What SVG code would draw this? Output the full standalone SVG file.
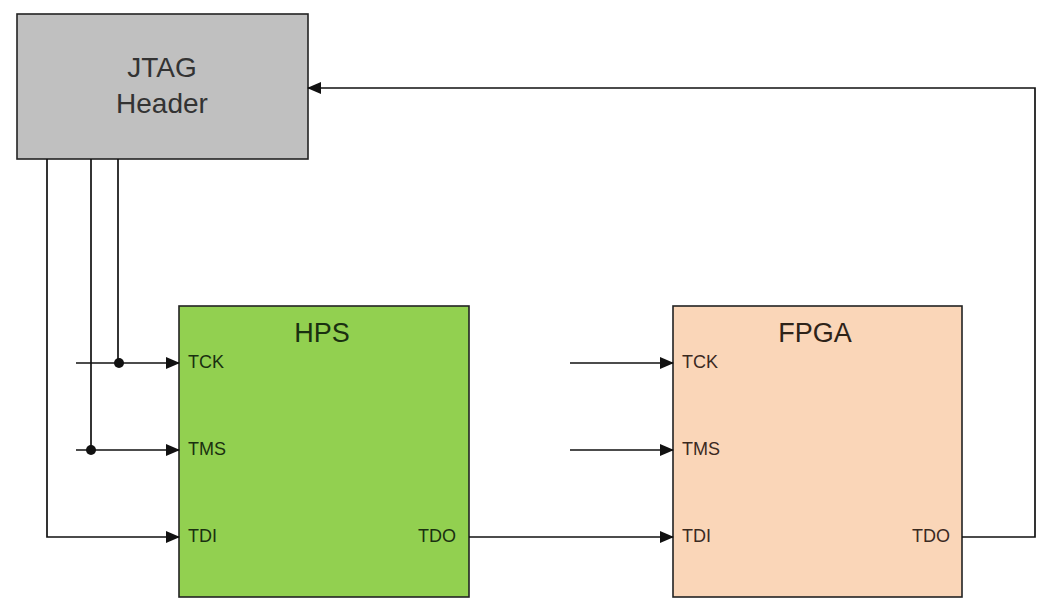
<svg xmlns="http://www.w3.org/2000/svg" width="1048" height="608" viewBox="0 0 1048 608">
<style>
.box{stroke:#222;stroke-width:1.6}
.wire{fill:none;stroke:#111;stroke-width:1.7}
.title{font-family:"Liberation Sans",Arial,sans-serif;font-size:27px;text-anchor:middle}
.port{font-family:"Liberation Sans",Arial,sans-serif;font-size:18px}
</style>
<defs>
<marker id="arr" markerWidth="14" markerHeight="12" refX="13" refY="6" orient="auto" markerUnits="userSpaceOnUse">
<path d="M0,0 L14,6 L0,12 Z" fill="#111"/>
</marker>
</defs>
<rect width="1048" height="608" fill="#fff"/>
<g id="jtag">
<rect class="box" x="17" y="14" width="291" height="145" fill="#c0c0c0"/>
<text class="title" x="162" y="77" fill="#333" style="font-size:28px">JTAG</text>
<text class="title" x="162" y="113" fill="#333" style="font-size:28px">Header</text>
</g>
<g id="hps">
<rect class="box" x="179" y="306" width="290" height="291" fill="#92d050"/>
<text class="title" x="322" y="342" fill="#1a3010">HPS</text>
<text class="port" x="188" y="368" fill="#1a3010">TCK</text>
<text class="port" x="188" y="455" fill="#1a3010">TMS</text>
<text class="port" x="188" y="542" fill="#1a3010">TDI</text>
<text class="port" x="456" y="542" fill="#1a3010" text-anchor="end">TDO</text>
</g>
<g id="fpga">
<rect class="box" x="673" y="306" width="289" height="291" fill="#fad6b8"/>
<text class="title" x="815" y="342" fill="#2e2318">FPGA</text>
<text class="port" x="682" y="368" fill="#3a2a1f">TCK</text>
<text class="port" x="682" y="455" fill="#3a2a1f">TMS</text>
<text class="port" x="682" y="542" fill="#3a2a1f">TDI</text>
<text class="port" x="950" y="542" fill="#3a2a1f" text-anchor="end">TDO</text>
</g>
<g id="connectors">
<path class="wire" d="M118,159 V363"/>
<path class="wire" d="M91,159 V450"/>
<path class="wire" d="M47,159 V537 H179" marker-end="url(#arr)"/>
<path class="wire" d="M76,363 H179" marker-end="url(#arr)"/>
<path class="wire" d="M76,450 H179" marker-end="url(#arr)"/>
<circle cx="119" cy="363" r="5" fill="#111"/>
<circle cx="91" cy="450" r="5" fill="#111"/>
<path class="wire" d="M570,363 H673" marker-end="url(#arr)"/>
<path class="wire" d="M570,450 H673" marker-end="url(#arr)"/>
<path class="wire" d="M469,537 H673" marker-end="url(#arr)"/>
<path class="wire" d="M962,537 H1035 V88 H308" marker-end="url(#arr)"/>
</g>
</svg>
